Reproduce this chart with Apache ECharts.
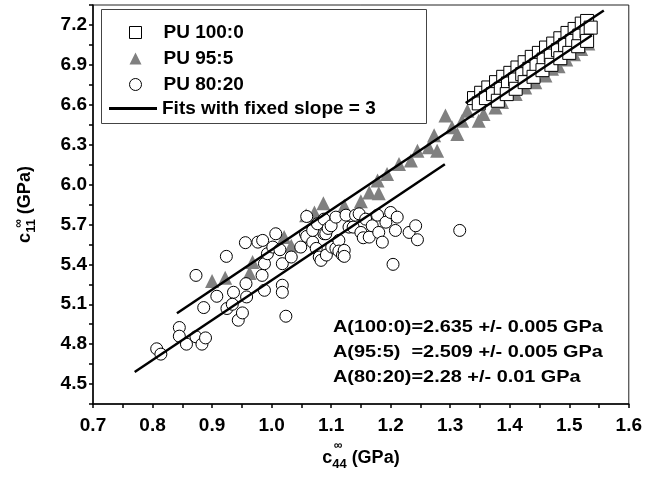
<!DOCTYPE html>
<html>
<head>
<meta charset="utf-8">
<script src="https://cdn.jsdelivr.net/npm/echarts@6/dist/echarts.min.js"></script>
<style>
  html, body { margin: 0; padding: 0; background: #fff; }
  #chart { width: 645px; height: 479px; }
</style>
</head>
<body>
<div id="chart"></div>
<script>
// PU 100:0 (open squares)
var pu100 = [
  [1.340,6.65],[1.352,6.69],[1.364,6.73],[1.377,6.77],[1.389,6.81],[1.401,6.84],[1.413,6.88],[1.425,6.92],
  [1.437,6.96],[1.449,6.99],[1.461,7.03],[1.473,7.06],[1.485,7.10],[1.497,7.14],[1.509,7.17],[1.521,7.21],
  [1.530,7.23],
  [1.348,6.61],[1.360,6.65],[1.372,6.68],[1.385,6.72],[1.397,6.76],[1.409,6.79],[1.421,6.83],[1.433,6.87],
  [1.445,6.90],[1.457,6.94],[1.469,6.97],[1.481,7.01],[1.493,7.05],[1.505,7.08],[1.517,7.12],[1.529,7.15],
  [1.536,7.18],
  [1.380,6.63],[1.395,6.68],[1.410,6.72],[1.425,6.77],[1.440,6.81],[1.455,6.86],[1.470,6.90],[1.485,6.95],
  [1.500,6.99],[1.515,7.04],[1.530,7.08]
];
// PU 95:5 (grey triangles)
var pu95 = [
  [0.900,5.275],[0.922,5.30],[0.963,5.335],[0.968,5.417],[1.021,5.605],[1.033,5.54],[1.058,5.77],
  [1.072,5.79],[1.087,5.86],[1.122,5.84],[1.150,5.875],[1.164,5.94],[1.180,5.935],[1.178,6.03],
  [1.194,6.08],[1.214,6.155],[1.234,6.18],[1.245,6.255],[1.264,6.28],[1.273,6.37],[1.278,6.255],
  [1.292,6.52],[1.303,6.43],[1.312,6.38],[1.320,6.48],[1.329,6.555],[1.348,6.48],[1.356,6.53],
  [1.376,6.58],[1.387,6.62],[1.410,6.68],[1.426,6.73],[1.443,6.77],[1.460,6.82],[1.471,6.87],
  [1.482,6.89],[1.495,6.94],[1.508,6.98],[1.520,7.02],[1.532,7.06]
];
// PU 80:20 (open circles)
var pu80 = [
  [0.807,4.765],[0.814,4.725],[0.845,4.925],[0.845,4.86],[0.857,4.80],[0.873,4.855],[0.883,4.80],
  [0.889,4.847],[0.873,5.317],[0.886,5.075],[0.908,5.16],[0.924,5.46],[0.925,5.068],[0.936,5.19],
  [0.934,5.10],[0.944,4.98],[0.951,5.035],[0.957,5.255],[0.958,5.155],[0.956,5.563],[0.977,5.567],
  [0.985,5.58],[0.984,5.317],[0.988,5.205],[0.988,5.405],[0.993,5.48],[1.002,5.53],[1.007,5.63],
  [1.014,5.51],[1.018,5.243],[1.018,5.19],[1.018,5.405],[1.024,5.01],[1.033,5.455],[1.049,5.53],
  [1.057,5.63],[1.059,5.76],[1.059,5.61],[1.069,5.567],[1.069,5.655],[1.075,5.52],[1.077,5.705],
  [1.080,5.455],[1.083,5.43],[1.088,5.74],[1.088,5.63],[1.091,5.63],[1.092,5.47],[1.095,5.67],
  [1.100,5.69],[1.101,5.53],[1.108,5.755],[1.108,5.52],[1.113,5.58],[1.113,5.50],[1.119,5.47],
  [1.122,5.505],[1.122,5.46],[1.125,5.77],[1.130,5.68],[1.137,5.68],[1.141,5.77],[1.147,5.78],
  [1.150,5.64],[1.154,5.60],[1.158,5.74],[1.164,5.605],[1.169,5.69],[1.178,5.77],[1.180,5.64],
  [1.186,5.567],[1.192,5.717],[1.200,5.79],[1.204,5.40],[1.208,5.655],[1.211,5.755],[1.231,5.64],
  [1.242,5.69],[1.245,5.585],[1.316,5.655]
];
// fitted lines (slope 3), end points
var fit100 = [[1.326,6.613],[1.558,7.309]];
var fit95 = [[0.841,5.032],[1.538,7.123]];
var fit80 = [[0.770,4.590],[1.291,6.153]];
var xTicks = [0.7,0.8,0.9,1.0,1.1,1.2,1.3,1.4,1.5,1.6];
var yTicks = [4.5,4.8,5.1,5.4,5.7,6.0,6.3,6.6,6.9,7.2];
var notes = ['A(100:0)=2.635 +/- 0.005 GPa', 'A(95:5)  =2.509 +/- 0.005 GPa', 'A(80:20)=2.28 +/- 0.01 GPa'];

var FONT = '"Liberation Sans", Arial, sans-serif';
function isTick(list, v) {
  return list.some(function (t) { return Math.abs(t - v) < 1e-6; });
}
function titleRich() {
  return {
    c: { fontSize: 18, fontWeight: 'bold', fontFamily: FONT, lineHeight: 26, color: '#000' },
    s: { fontSize: 13, fontWeight: 'bold', fontFamily: FONT, lineHeight: 13, verticalAlign: 'bottom', color: '#000' },
    t: { fontSize: 18, fontWeight: 'bold', fontFamily: FONT, lineHeight: 26, color: '#000' }
  };
}

var myChart = echarts.init(document.getElementById('chart'));
var fitName = 'Fits with fixed slope = 3';
var option = {
  animation: false,
  backgroundColor: '#fff',
  grid: { left: 93, right: 15, top: 5, bottom: 75, show: true, borderColor: '#222', borderWidth: 1 },
  xAxis: {
    type: 'value', min: 0.7, max: 1.6, interval: 0.05,
    axisLine: { show: true, lineStyle: { color: '#000', width: 1.5 } },
    axisTick: { show: true, inside: false, length: 4, lineStyle: { color: '#000', width: 1.5 } },
    splitLine: { show: false },
    axisLabel: {
      margin: 12, color: '#000', fontFamily: FONT, fontWeight: 'bold', fontSize: 19,
      formatter: function (v) { return isTick(xTicks, v) ? v.toFixed(1) : ''; }
    },
    name: '{c|c}{s|44}{t| (GPa)}', nameLocation: 'middle', nameGap: 41,
    nameTextStyle: { color: '#000', fontFamily: FONT, fontWeight: 'bold', rich: titleRich() }
  },
  yAxis: {
    type: 'value', min: 4.35, max: 7.35, interval: 0.15,
    axisLine: { show: true, lineStyle: { color: '#000', width: 1.5 } },
    axisTick: { show: true, inside: false, length: 4, lineStyle: { color: '#000', width: 1.5 } },
    splitLine: { show: false },
    axisLabel: {
      margin: 6, color: '#000', fontFamily: FONT, fontWeight: 'bold', fontSize: 19,
      formatter: function (v) { return isTick(yTicks, v) ? v.toFixed(1) : ''; }
    },
    name: '{c|c}{s|11}{t| (GPa)}', nameLocation: 'middle', nameGap: 55,
    nameTextStyle: { color: '#000', fontFamily: FONT, fontWeight: 'bold', rich: titleRich() }
  },
  legend: [
    {
      data: [
        { name: 'PU 100:0', icon: 'rect', itemStyle: { color: '#fff', borderColor: '#000', borderWidth: 1 } },
        { name: 'PU 95:5', icon: 'triangle', itemStyle: { color: '#808080', borderWidth: 0 } },
        { name: 'PU 80:20', icon: 'circle', itemStyle: { color: '#fff', borderColor: '#000', borderWidth: 1 } }
      ],
      orient: 'vertical', left: 129, top: 23, padding: 0,
      itemWidth: 12, itemHeight: 12, itemGap: 7,
      textStyle: { color: '#000', fontFamily: FONT, fontWeight: 'bold', fontSize: 19, padding: [0, 0, 0, 17] }
    },
    {
      data: [{ name: fitName, icon: 'rect', itemStyle: { color: '#000' } }],
      orient: 'vertical', left: 109, top: 99, padding: 0,
      itemWidth: 48, itemHeight: 3,
      textStyle: { color: '#000', fontFamily: FONT, fontWeight: 'bold', fontSize: 19 }
    }
  ],
  graphic: [
    { type: 'rect', left: 101, top: 9, z: 0, silent: true,
      shape: { width: 325, height: 114 }, style: { fill: '#fff', stroke: '#444', lineWidth: 1 } },
    { type: 'text', left: 334, top: 440, style: { text: '\u221e', font: 'bold 12px ' + FONT, fill: '#000' } },
    { type: 'text', left: 13, top: 219, rotation: Math.PI / 2,
      style: { text: '\u221e', font: 'bold 12px ' + FONT, fill: '#000' } }
  ].concat(notes.map(function (t, i) {
    return { type: 'text', left: 333, top: 319 + i * 25, scaleX: 1.17,
      style: { text: t, font: 'bold 17px ' + FONT, fill: '#000' } };
  })),
  series: [
    {
      name: 'PU 100:0', type: 'scatter', data: pu100, z: 4,
      symbol: 'rect', symbolSize: 13,
      itemStyle: { color: '#fff', borderColor: '#000', borderWidth: 1, opacity: 1 }
    },
    {
      name: 'PU 95:5', type: 'scatter', data: pu95, z: 2,
      symbol: 'triangle', symbolSize: 14,
      itemStyle: { color: '#808080', opacity: 1 }
    },
    {
      name: 'PU 80:20', type: 'scatter', data: pu80, z: 3,
      symbol: 'circle', symbolSize: 12,
      itemStyle: { color: '#fff', borderColor: '#000', borderWidth: 1, opacity: 1 }
    },
    { name: fitName, type: 'line', data: fit100, z: 5, symbol: 'none',
      lineStyle: { color: '#000', width: 2.5 }, itemStyle: { color: '#000' } },
    { name: fitName, type: 'line', data: fit95, z: 5, symbol: 'none',
      lineStyle: { color: '#000', width: 2.5 }, itemStyle: { color: '#000' } },
    { name: fitName, type: 'line', data: fit80, z: 5, symbol: 'none',
      lineStyle: { color: '#000', width: 2.5 }, itemStyle: { color: '#000' } }
  ]
};
myChart.setOption(option);
</script>
</body>
</html>
